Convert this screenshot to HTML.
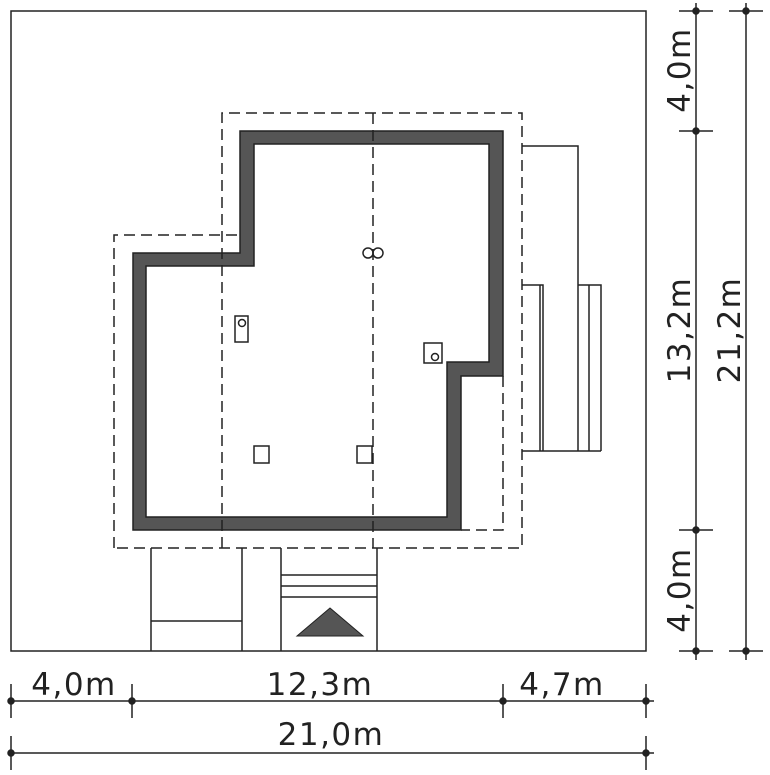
<!DOCTYPE html>
<html><head><style>body{margin:0;background:#fff}svg{display:block}text{font-family:"DejaVu Sans","Liberation Sans",sans-serif;font-size:31px;letter-spacing:1.5px;fill:#222}</style></head><body>
<svg width="770" height="775" viewBox="0 0 770 775" xmlns="http://www.w3.org/2000/svg">
<g fill="none" stroke="#222" stroke-width="1.5">
<rect x="11" y="11" width="635" height="640"/>
</g>
<path d="M133,253 H240 V131 H503 V376 H461 V530 H133 Z M146,266 V517 H447 V362 H489 V144 H254 V266 Z" fill="#555" fill-rule="evenodd" stroke="#222" stroke-width="1.5"/>
<g fill="none" stroke="#222" stroke-width="1.5" stroke-dasharray="11,6">
<path d="M114,548 V235 H240"/>
<path d="M222,548 V113 H522 V548 H114"/>
<path d="M373,113 V548"/>
<path d="M503,376 V530 H461"/>
</g>
<g fill="none" stroke="#222" stroke-width="1.5">
<path d="M522,146 H578 V451"/>
<path d="M522,285 H543 V451 M540,285 V451 M578,285 H601 V451 M589,285 V451 M522,451 H601"/>
<path d="M151,548 V651 M242,548 V651 M151,621 H242"/>
<path d="M281,548 V651 M377,548 V651 M281,575 H377 M281,586 H377 M281,597 H377"/>
<rect x="235" y="316" width="13" height="26"/><circle cx="242" cy="323" r="3.5"/>
<circle cx="368" cy="253" r="5"/><circle cx="378" cy="253" r="5"/>
<rect x="424" y="343" width="18" height="20"/><circle cx="435" cy="357" r="3.5"/>
<rect x="254" y="446" width="15" height="17"/><rect x="357" y="446" width="15" height="17"/>
</g>
<polygon points="297,636 330,608 363,636" fill="#555" stroke="#222" stroke-width="1"/>
<g stroke="#222" stroke-width="1.5" fill="#222">
<path d="M11,701 H654 M11,753 H654 M11,684 V718 M132,684 V718 M503,684 V718 M646,684 V718 M11,736 V770 M646,736 V770" fill="none"/>
<circle cx="11" cy="701" r="3"/><circle cx="132" cy="701" r="3"/><circle cx="503" cy="701" r="3"/><circle cx="646" cy="701" r="3"/>
<circle cx="11" cy="753" r="3"/><circle cx="646" cy="753" r="3"/>
<path d="M696,3 V660 M746,3 V660 M679,11 H713 M679,131 H713 M679,530 H713 M679,651 H713 M729,11 H763 M729,651 H763" fill="none"/>
<circle cx="696" cy="11" r="3"/><circle cx="696" cy="131" r="3"/><circle cx="696" cy="530" r="3"/><circle cx="696" cy="651" r="3"/>
<circle cx="746" cy="11" r="3"/><circle cx="746" cy="651" r="3"/>
</g>
<text x="74" y="695" text-anchor="middle">4,0m</text>
<text x="320" y="695" text-anchor="middle">12,3m</text>
<text x="562" y="695" text-anchor="middle">4,7m</text>
<text x="331" y="745" text-anchor="middle">21,0m</text>
<text transform="translate(690,70) rotate(-90)" text-anchor="middle">4,0m</text>
<text transform="translate(690,330) rotate(-90)" text-anchor="middle">13,2m</text>
<text transform="translate(690,590) rotate(-90)" text-anchor="middle">4,0m</text>
<text transform="translate(740,330) rotate(-90)" text-anchor="middle">21,2m</text>
</svg>
</body></html>
